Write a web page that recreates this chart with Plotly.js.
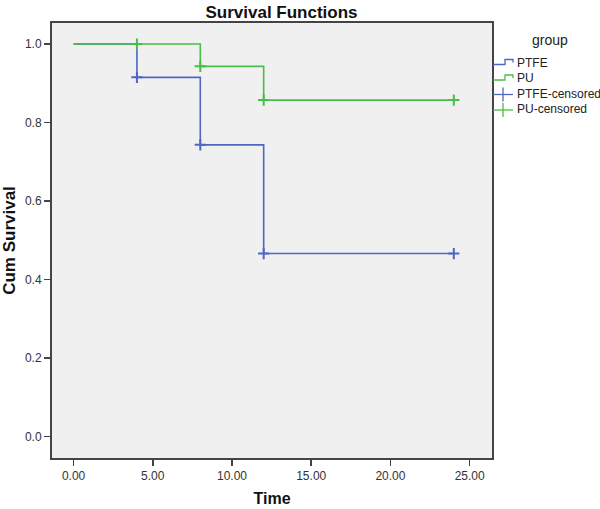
<!DOCTYPE html>
<html>
<head>
<meta charset="utf-8">
<script src="https://cdn.plot.ly/plotly-3.0.1.min.js"></script>
<style>
  html, body { margin: 0; padding: 0; background: #fff; }
  #chart { width: 600px; height: 509px; }
</style>
</head>
<body>
<div id="chart"></div>
<script>
// survival steps (time, cum survival)
var ptfeTime = [0, 4, 8, 12, 24];
var ptfeSurv = [1.0, 0.915, 0.743, 0.466, 0.466];
var puTime = [0, 4, 8, 12, 24];
var puSurv = [1.0, 1.0, 0.943, 0.857, 0.857];

// censored marks
var ptfeCensTime = [4, 8, 12, 24];
var ptfeCensSurv = [0.915, 0.743, 0.466, 0.466];
var puCensTime = [4, 8, 12, 24];
var puCensSurv = [1.0, 0.943, 0.857, 0.857];

var groupNames = ["PTFE", "PU", "PTFE-censored", "PU-censored"];

var xTicks = [0, 5, 10, 15, 20, 25];
var yTicks = [0, 0.2, 0.4, 0.6, 0.8, 1.0];

var blue = "#4f66c2";
var green = "#46bf46";
var fontFam = "Liberation Sans, Arial, sans-serif";

var data = [
  {
    x: ptfeTime, y: ptfeSurv, mode: "lines", line: { shape: "hv", color: blue, width: 1.6 },
    name: groupNames[0], hoverinfo: "x+y"
  },
  {
    x: puTime, y: puSurv, mode: "lines", line: { shape: "hv", color: green, width: 1.6 },
    name: groupNames[1], hoverinfo: "x+y"
  },
  {
    x: ptfeCensTime, y: ptfeCensSurv, mode: "markers", name: groupNames[2],
    marker: { symbol: "cross-thin", size: 8, line: { color: blue, width: 2 } }
  },
  {
    x: puCensTime, y: puCensSurv, mode: "markers", name: groupNames[3],
    marker: { symbol: "cross-thin", size: 8, line: { color: green, width: 2 } }
  }
];

// pixel -> paper helpers for the hand made legend
var L = 52, R = 492, T = 23, B = 458;
function px(x) { return (x - L) / (R - L); }
function py(y) { return (B - y) / (B - T); }

var shapes = [];
var annotations = [];
var legendY = [62.5, 78, 93.5, 109];
var legendCol = [blue, green, blue, green];

for (var i = 0; i < groupNames.length; i++) {
  var y = legendY[i];
  if (i < 2) {
    shapes.push({
      type: "path", xref: "paper", yref: "paper",
      path: "M " + px(493) + " " + py(y + 2) + " L " + px(505) + " " + py(y + 2) +
        " L " + px(505) + " " + py(y - 3) + " L " + px(513) + " " + py(y - 3) +
        " L " + px(513) + " " + py(y),
      line: { color: legendCol[i], width: 1.3 }
    });
  } else {
    shapes.push({
      type: "line", xref: "paper", yref: "paper",
      x0: px(493), x1: px(513), y0: py(y + 1), y1: py(y + 1),
      line: { color: legendCol[i], width: 1.3 }
    });
    shapes.push({
      type: "line", xref: "paper", yref: "paper",
      x0: px(503), x1: px(503), y0: py(y - 6), y1: py(y + 8),
      line: { color: legendCol[i], width: 1.3 }
    });
  }
  annotations.push({
    xref: "paper", yref: "paper", x: px(515), y: py(y), xanchor: "left", yanchor: "middle",
    text: groupNames[i], showarrow: false, font: { family: fontFam, size: 12, color: "#222" }
  });
}
annotations.push({
  xref: "paper", yref: "paper", x: px(550), y: py(40), xanchor: "center", yanchor: "middle",
  text: "group", showarrow: false, font: { family: fontFam, size: 14, color: "#222" }
});

var layout = {
  width: 600,
  height: 509,
  margin: { l: L, r: 600 - R, t: T, b: 509 - B, pad: 0 },
  paper_bgcolor: "#ffffff",
  plot_bgcolor: "#f0f0f0",
  showlegend: false,
  font: { family: fontFam, size: 12, color: "#333" },
  title: {
    text: "<b>Survival Functions</b>",
    xref: "paper", x: px(281.5), xanchor: "center",
    yref: "container", y: 1 - 12 / 509, yanchor: "middle",
    font: { family: fontFam, size: 17, color: "#111" }
  },
  xaxis: {
    range: [-1.36, 26.41],
    tickvals: xTicks,
    tickformat: ".2f",
    ticks: "outside", ticklen: 6, tickwidth: 1.5, tickcolor: "#444",
    showgrid: false, zeroline: false,
    showline: true, mirror: true, linecolor: "#444", linewidth: 2,
    tickfont: { family: fontFam, size: 12, color: "#333" },
    title: { text: "<b>Time</b>", standoff: 10, font: { family: fontFam, size: 16, color: "#111" } },
    fixedrange: true
  },
  yaxis: {
    range: [-0.055, 1.0535],
    tickvals: yTicks,
    tickformat: ".1f",
    ticks: "outside", ticklen: 6, tickwidth: 1.5, tickcolor: "#444",
    showgrid: false, zeroline: false,
    showline: true, mirror: true, linecolor: "#444", linewidth: 2,
    tickfont: { family: fontFam, size: 12, color: "#333" },
    title: { text: "<b>Cum Survival</b>", standoff: 8, font: { family: fontFam, size: 17, color: "#111" } },
    fixedrange: true
  },
  shapes: shapes,
  annotations: annotations
};

Plotly.newPlot("chart", data, layout, { displayModeBar: false, staticPlot: true });
</script>
</body>
</html>
